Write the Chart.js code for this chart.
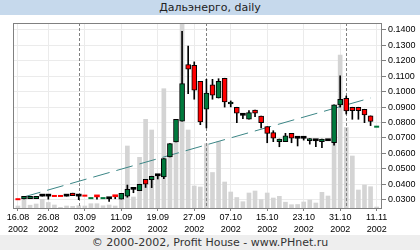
<!DOCTYPE html>
<html>
<head>
<meta charset="utf-8">
<title>Дальэнерго, daily</title>
<script src="https://cdn.jsdelivr.net/npm/chart.js@4.4.1/dist/chart.umd.min.js"></script>
<style>
  html, body { margin: 0; padding: 0; background: #fff; }
  #wrap { position: relative; width: 420px; height: 250px; overflow: hidden; }
  #head { position: absolute; left: 0; top: 0; width: 420px; height: 15px; background: #c6d9ec; color: #222;
          font: 11px "DejaVu Sans", sans-serif; line-height: 15px; text-align: center; }
  #foot { position: absolute; left: 0; top: 235px; width: 420px; height: 15px; background: #eeeeee; color: #333;
          font: 11px "DejaVu Sans", sans-serif; line-height: 15px; text-align: center; }
  #chart { position: absolute; left: 0; top: 0; }
</style>
</head>
<body>
<div id="wrap">
  <div id="head">Дальэнерго, daily</div>
  <div id="foot">© 2000-2002, Profit House - www.PHnet.ru</div>
  <canvas id="chart" width="420" height="250"></canvas>
</div>
<script>
// trading days on the axis
var days = ["16.08.2002", "19.08.2002", "20.08.2002", "21.08.2002", "22.08.2002",
    "26.08.2002", "27.08.2002", "28.08.2002", "29.08.2002", "30.08.2002",
    "02.09.2002", "03.09.2002", "04.09.2002", "05.09.2002", "06.09.2002",
    "09.09.2002", "10.09.2002", "11.09.2002", "12.09.2002", "13.09.2002",
    "16.09.2002", "17.09.2002", "18.09.2002", "19.09.2002", "20.09.2002",
    "23.09.2002", "24.09.2002", "25.09.2002", "26.09.2002", "27.09.2002",
    "30.09.2002", "01.10.2002", "02.10.2002", "03.10.2002", "04.10.2002",
    "07.10.2002", "08.10.2002", "09.10.2002", "10.10.2002", "11.10.2002",
    "14.10.2002", "15.10.2002", "16.10.2002", "17.10.2002", "18.10.2002",
    "21.10.2002", "22.10.2002", "23.10.2002", "24.10.2002", "25.10.2002",
    "28.10.2002", "29.10.2002", "30.10.2002", "31.10.2002", "01.11.2002",
    "04.11.2002", "05.11.2002", "06.11.2002", "08.11.2002", "11.11.2002"];

var open = [null, 0.0305, 0.0306, 0.0306, 0.0323, 0.0323, null, null, 0.0323, 0.0342,
    0.0323, null, null, 0.0322, null, 0.0306, 0.0323, 0.0304, 0.0322, 0.0367,
    0.0358, 0.0432, 0.0430, 0.0455, 0.0447, 0.0577, 0.0674, 0.0808, 0.1175, 0.1171,
    0.1067, 0.0886, 0.1045, 0.0959, 0.1087, 0.0920, 0.0899, 0.0847, 0.0821, 0.0881,
    0.0842, 0.0773, 0.0734, 0.0676, 0.0676, 0.0730, 0.0698, 0.0698, 0.0683, 0.0682,
    0.0676, 0.0682, 0.0669, 0.0914, 0.0957, 0.0899, 0.0899, 0.0886, 0.0843, null];
var high = [null, 0.0322, 0.0322, 0.0322, 0.0323, 0.0323, null, null, 0.0323, 0.0342,
    0.0323, null, null, 0.0322, null, 0.0306, 0.0323, 0.0341, 0.0395, 0.0367,
    0.0400, 0.0432, 0.0452, 0.0455, 0.0566, 0.0663, 0.0821, 0.1391, 0.1296, 0.1193,
    0.1067, 0.1080, 0.1080, 0.1084, 0.1087, 0.0940, 0.0899, 0.0858, 0.0877, 0.0881,
    0.0842, 0.0773, 0.0747, 0.0693, 0.0730, 0.0730, 0.0698, 0.0698, 0.0696, 0.0682,
    0.0693, 0.0682, 0.0914, 0.1102, 0.0972, 0.0899, 0.0899, 0.0886, 0.0843, null];
var low = [null, 0.0305, 0.0306, 0.0306, 0.0323, 0.0303, null, null, 0.0323, 0.0326,
    0.0300, null, null, 0.0303, null, 0.0288, 0.0306, 0.0304, 0.0316, 0.0345,
    0.0358, 0.0379, 0.0378, 0.0434, 0.0436, 0.0577, 0.0674, 0.0808, 0.0987, 0.0951,
    0.0786, 0.0765, 0.0951, 0.0959, 0.0900, 0.0901, 0.0799, 0.0825, 0.0821, 0.0838,
    0.0765, 0.0669, 0.0676, 0.0643, 0.0676, 0.0669, 0.0648, 0.0686, 0.0660, 0.0643,
    0.0637, 0.0682, 0.0654, 0.0899, 0.0855, 0.0821, 0.0821, 0.0799, 0.0780, null];
var close = [null, 0.0322, 0.0322, 0.0322, 0.0323, 0.0323, null, null, 0.0323, 0.0326,
    0.0323, null, null, 0.0318, null, 0.0306, 0.0319, 0.0341, 0.0367, 0.0367,
    0.0400, 0.0400, 0.0452, 0.0455, 0.0566, 0.0663, 0.0821, 0.1052, 0.1145, 0.1009,
    0.0804, 0.0991, 0.0977, 0.1067, 0.0933, 0.0933, 0.0860, 0.0847, 0.0864, 0.0860,
    0.0799, 0.0730, 0.0698, 0.0693, 0.0713, 0.0698, 0.0698, 0.0698, 0.0696, 0.0682,
    0.0693, 0.0682, 0.0914, 0.0951, 0.0875, 0.0877, 0.0877, 0.0849, 0.0807, null];

// days without trades: only a quote
var askQuote = {0: 0.0303, 6: 0.0324, 7: 0.0324, 11: 0.0326};
var bidQuote = {12: 0.0310, 14: 0.0310, 59: 0.0773};

var volume = [20, 87, 28, 40, 87, 55, 30, 7, 20, 17,
    23, 20, 43, 43, 22, 30, 20, 87, 620, 110,
    507, 887, 780, 330, 1193, 510, 800, 2100, 780, 220,
    210, 643, 355, 665, 260, 160, 105, 63, 150, 170,
    85, 150, 100, 117, 58, 33, 35, 60, 80, 50,
    157, 120, 980, 1530, 805, 520, 180, 230, 213, 10];

var trendDays = [1, 58];
var trendValues = [0.0318, 0.0959];

var tickDays = ["16.08.2002", "26.08.2002", "03.09.2002", "11.09.2002", "19.09.2002", "27.09.2002",
    "07.10.2002", "15.10.2002", "23.10.2002", "31.10.2002", "11.11.2002"];
var priceTicks = [0.03, 0.04, 0.05, 0.06, 0.07, 0.08, 0.09, 0.10, 0.11, 0.12, 0.13, 0.14];

var upColor = "#007a3d";
var downColor = "#ff0000";

var monthStarts = [];
for (var i = 1; i < days.length; i++) {
    if (days[i].slice(3, 5) != days[i - 1].slice(3, 5)) monthStarts.push(i);
}

var bodies = [], wicks = [], vols = [], asks = [], bids = [];
for (var i = 0; i < days.length; i++) {
    vols.push({x: i, y: volume[i]});
    if (open[i] != null) {
        bodies.push({x: i, y: [open[i], close[i]]});
        wicks.push({x: i, y: [low[i], high[i]]});
    }
    if (askQuote[i] != null) asks.push({x: i, y: askQuote[i]});
    if (bidQuote[i] != null) bids.push({x: i, y: bidQuote[i]});
}
var trend = trendDays.map(function(d, k) { return {x: d, y: trendValues[k]}; });

function bodyColor(c) {
    var i = c.raw ? c.raw.x : 0;
    if (close[i] > open[i]) return upColor;
    if (close[i] < open[i]) return downColor;
    return "#000";
}

var monthLines = {
    id: "monthLines",
    afterDatasetDraw: function(chart, args) {
        if (args.index !== 0) return;
        var ctx = chart.ctx, area = chart.chartArea, xs = chart.scales.x;
        ctx.save();
        ctx.strokeStyle = "#808080";
        ctx.lineWidth = 1;
        ctx.setLineDash([3, 2]);
        monthStarts.forEach(function(i) {
            var px = Math.round(xs.getPixelForValue(i)) + 0.5;
            ctx.beginPath();
            ctx.moveTo(px, area.top);
            ctx.lineTo(px, area.bottom);
            ctx.stroke();
        });
        ctx.restore();
    }
};

var frame = {
    id: "frame",
    afterDatasetsDraw: function(chart) {
        var ctx = chart.ctx, a = chart.chartArea;
        ctx.save();
        ctx.strokeStyle = "#808080";
        ctx.lineWidth = 1;
        ctx.strokeRect(a.left + 0.5, a.top + 0.5, a.right - a.left - 1, a.bottom - a.top);
        ctx.restore();
    }
};

var tickFont = {family: "'Liberation Sans', Arial, sans-serif", size: 9, lineHeight: 1.28};

new Chart(document.getElementById("chart"), {
    type: "bar",
    data: {
        datasets: [{
            data: vols,
            yAxisID: "yv",
            backgroundColor: "#d4d4d4",
            barThickness: 4,
            grouped: false,
            clip: 0,
            order: 5
        }, {
            type: "line",
            data: trend,
            yAxisID: "y",
            borderColor: "#3c8686",
            borderWidth: 1,
            borderDash: [17, 7],
            pointRadius: 0,
            fill: false,
            order: 4
        }, {
            data: wicks,
            yAxisID: "y",
            backgroundColor: "#000",
            barThickness: 1,
            grouped: false,
            order: 3
        }, {
            data: bodies,
            yAxisID: "y",
            backgroundColor: bodyColor,
            borderColor: "#000",
            borderWidth: function(c) {
                var i = c.raw ? c.raw.x : 0;
                return Math.abs(close[i] - open[i]) >= 0.001 ? 1 : 0;
            },
            borderSkipped: false,
            barThickness: 5,
            minBarLength: 2,
            grouped: false,
            order: 2
        }, {
            type: "line",
            data: asks,
            yAxisID: "y",
            showLine: false,
            pointStyle: "line",
            pointRadius: 2.5,
            pointBorderWidth: 2,
            pointBorderColor: downColor,
            order: 1
        }, {
            type: "line",
            data: bids,
            yAxisID: "y",
            showLine: false,
            pointStyle: "line",
            pointRadius: 2.5,
            pointBorderWidth: 2,
            pointBorderColor: upColor,
            order: 1
        }]
    },
    options: {
        responsive: false,
        animation: false,
        events: [],
        layout: {padding: {left: 13, top: 23, right: 0, bottom: 0}},
        plugins: {legend: {display: false}, tooltip: {enabled: false}, title: {display: false}},
        scales: {
            x: {
                type: "linear",
                min: -0.81,
                max: 59.88,
                offset: false,
                afterBuildTicks: function(s) {
                    s.ticks = tickDays.map(function(d) { return {value: days.indexOf(d)}; });
                },
                afterFit: function(s) { s.height = 42; },
                ticks: {
                    autoSkip: false,
                    maxRotation: 0,
                    minRotation: 0,
                    padding: 1,
                    color: "#000",
                    font: tickFont,
                    callback: function(v) {
                        var d = days[v];
                        return [d.slice(0, 5), d.slice(6)];
                    }
                },
                grid: {color: "#ebebeb", offset: false, tickLength: 3, tickColor: "#808080"},
                border: {display: false}
            },
            y: {
                type: "linear",
                position: "right",
                min: 0.0246,
                max: 0.1445,
                afterBuildTicks: function(s) {
                    s.ticks = priceTicks.map(function(v) { return {value: v}; });
                },
                afterFit: function(s) { s.width = 38; },
                ticks: {
                    autoSkip: false,
                    padding: 2,
                    color: "#000",
                    font: tickFont,
                    callback: function(v) { return v.toFixed(4); }
                },
                grid: {color: "#ebebeb", tickLength: 4, tickColor: "#808080"},
                border: {display: false}
            },
            yv: {
                type: "linear",
                display: false,
                min: 0,
                max: 1850
            }
        }
    },
    plugins: [monthLines, frame]
});
</script>
</body>
</html>
